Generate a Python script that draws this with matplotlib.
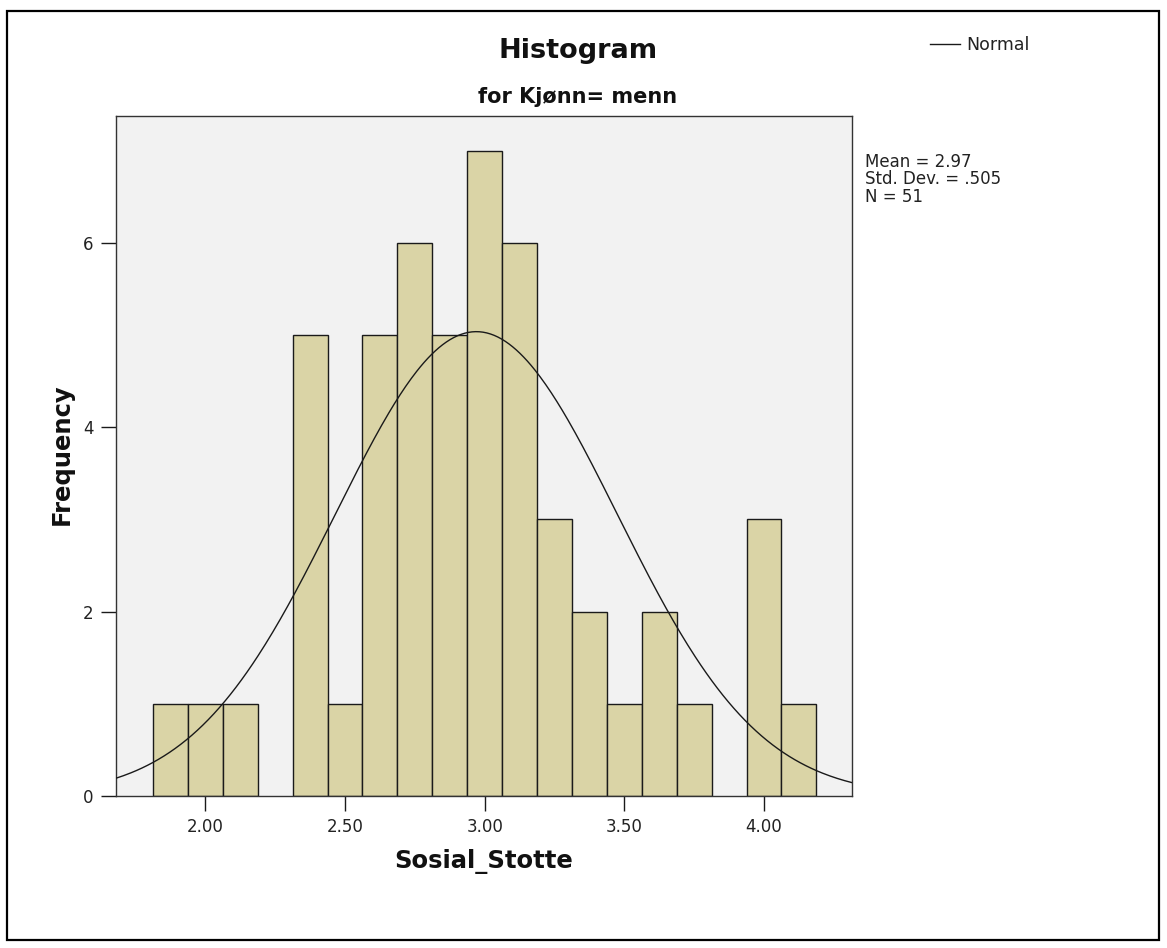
import numpy as np
import matplotlib.pyplot as plt
from matplotlib.patches import Rectangle

# Sosial_Stotte scores for Kjønn = menn, binned at 0.125
bin_centers = [1.875, 2.000, 2.125, 2.250, 2.375, 2.500, 2.625, 2.750, 2.875,
               3.000, 3.125, 3.250, 3.375, 3.500, 3.625, 3.750, 3.875, 4.000,
               4.125]
counts = [1, 1, 1, 0, 5, 1, 5, 6, 5, 7, 6, 3, 2, 1, 2, 1, 0, 3, 1]
bin_width = 0.125

# summary statistics shown beside the plot
mean = 2.97
std_dev = 0.505
n_obs = 51

x_ticks = [2.00, 2.50, 3.00, 3.50, 4.00]
y_ticks = [0, 2, 4, 6]

W, H = 1167, 948
fig = plt.figure(figsize=(W / 100, H / 100), dpi=100)
fig.patch.set_facecolor('white')

# outer chart frame
frame = Rectangle((7 / W, 1 - 940 / H), (1159 - 7) / W, (940 - 11) / H,
                  transform=fig.transFigure, fill=False, edgecolor='black',
                  linewidth=1.6)
fig.patches.append(frame)

ax = fig.add_axes([116 / W, 1 - 796 / H, (852 - 116) / W, (796 - 116) / H])
ax.set_facecolor('#F2F2F2')

xs = [c for c, k in zip(bin_centers, counts) if k > 0]
ks = [k for k in counts if k > 0]
ax.bar(xs, ks, width=bin_width, color='#DAD4A6', edgecolor='#1a1a1a',
       linewidth=1.0, zorder=2)

# fitted normal curve scaled to counts
gx = np.linspace(1.68, 4.315, 400)
gy = n_obs * bin_width * np.exp(-0.5 * ((gx - mean) / std_dev) ** 2) / (std_dev * np.sqrt(2 * np.pi))
curve, = ax.plot(gx, gy, color='#1a1a1a', linewidth=1.0, zorder=3, label='Normal')

ax.set_xlim(1.68, 4.315)
ax.set_ylim(0, 7.375)
ax.set_xticks(x_ticks)
ax.set_xticklabels([f'{t:.2f}' for t in x_ticks])
ax.set_yticks(y_ticks)
ax.tick_params(axis='both', length=11, width=1, color='#1a1a1a',
               labelsize=12, labelcolor='#222222', pad=5)
for s in ax.spines.values():
    s.set_color('#333333')
    s.set_linewidth(1.0)

fig.text(578 / W, 1 - 58 / H, 'Histogram', ha='center', va='baseline',
         fontsize=19.5, fontweight='bold', color='#111111')
fig.text(578 / W, 1 - 103 / H, 'for Kjønn= menn', ha='center', va='baseline',
         fontsize=15, fontweight='bold', color='#111111')
fig.text(484 / W, 1 - 868 / H, 'Sosial_Stotte', ha='center', va='baseline',
         fontsize=17.5, fontweight='bold', color='#111111')
fig.text(62 / W, 1 - 454 / H, 'Frequency', ha='center', va='center',
         rotation=90, fontsize=17.5, fontweight='bold', color='#111111')

fig.text(865 / W, 1 - 153 / H,
         f'Mean = {mean:.2f}\nStd. Dev. = {std_dev:.3f}'.replace('0.', '.') + f'\nN = {n_obs}',
         ha='left', va='top', fontsize=12, color='#222222', linespacing=0.95)

fig.legend(handles=[curve], loc='center left',
           bbox_to_anchor=(930 / W, 1 - 45 / H), frameon=False,
           fontsize=12.5, handlelength=1.7, handletextpad=0.4,
           borderpad=0, borderaxespad=0, labelcolor='#222222')

fig.savefig('out.png', dpi=100)
